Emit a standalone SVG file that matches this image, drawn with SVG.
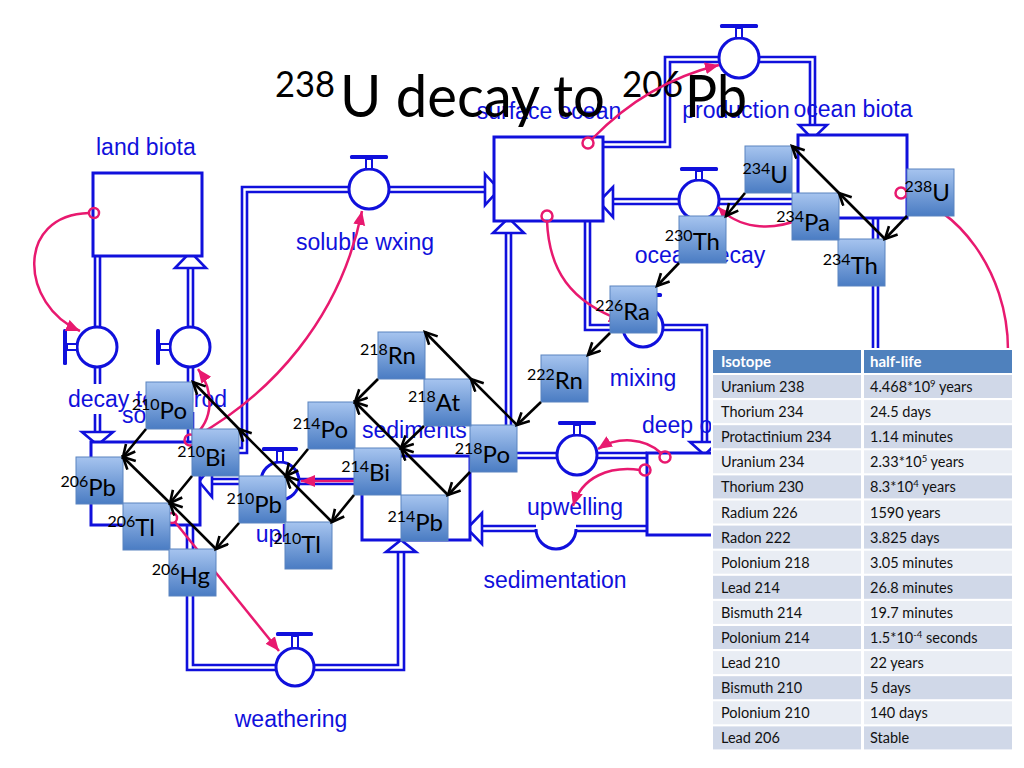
<svg xmlns="http://www.w3.org/2000/svg" width="1024" height="768" viewBox="0 0 1024 768">
<defs>
<style>
.p{fill:none;stroke:#1010dc;stroke-width:2.6}
.stk{fill:#fff;stroke:#1010dc;stroke-width:3}
.vc{fill:#fff;stroke:#1010dc;stroke-width:3}
.hb{fill:#1010dc}
.hs{fill:#fff;stroke:#1010dc;stroke-width:2}
.ah{fill:#fff;stroke:#1010dc;stroke-width:2.6;stroke-linejoin:miter}
.lbl{font-family:"Liberation Sans",Arial,sans-serif;font-size:23px;fill:#1010dc}
.pk{fill:none;stroke:#e8196f;stroke-width:2.5}
.pkc{fill:none;stroke:#e8196f;stroke-width:2.5}
.box{fill:url(#g);stroke:#5a84c0;stroke-width:1}
.iso{font-family:Lato,"Open Sans",sans-serif;font-size:24px;fill:#000}
.sup{font-size:16px}
.bk{fill:none;stroke:#000;stroke-width:2.6}
.th{fill:#4f81bd}
.rd{fill:#d0d8e8}
.rl{fill:#e9edf4}
.tt{font-family:Lato,"Open Sans",sans-serif;font-size:14.5px;fill:#111}
.tth{font-family:Lato,"Open Sans",sans-serif;font-size:15px;font-weight:bold;fill:#fff}
.ttl{font-family:Lato,"Open Sans",sans-serif;fill:#000}
</style>
<linearGradient id="g" x1="0" y1="0" x2="0" y2="1">
<stop offset="0" stop-color="#a6c4ef"/>
<stop offset="1" stop-color="#4a7cc3"/>
</linearGradient>
<marker id="ka" markerUnits="userSpaceOnUse" markerWidth="16" markerHeight="16" refX="13" refY="7" orient="auto">
<path d="M1,1 L13,7 L1,13" fill="none" stroke="#000" stroke-width="2.6"/>
</marker>
<marker id="pa" markerUnits="userSpaceOnUse" markerWidth="16" markerHeight="14" refX="14" refY="6" orient="auto">
<path d="M0,0 L14,6 L0,12 z" fill="#e8196f"/>
</marker>
</defs>
<rect x="0" y="0" width="1024" height="768" fill="#fff"/>

<g id="pipes">
<path class="p" d="M95,256 V327 M100,256 V327 M95,367 V384 M100,367 V384 M95,414 V432 M100,414 V432"/>
<polygon class="ah" points="82,432 113,432 97.5,445"/>
<path class="p" d="M188,268 V327 M193,268 V327 M188,367 V385 M193,367 V385 M188,412 V442 M193,412 V442"/>
<polygon class="ah" points="175,268 206,268 190.5,252"/>
<path class="p" d="M200,448 H242 V187 H349 M200,453 H247 V192 H349 M389,187 H485 M389,192 H485"/>
<polygon class="ah" points="485,174 499,189.5 485,205"/>
<path class="p" d="M603,142 H665 V57 H719 M603,147 H670 V62 H719 M759,57 H815 V125 M759,62 H810 V125"/>
<polygon class="ah" points="799,125 827,125 812.5,139"/>
<path class="p" d="M798,199 H719 M798,204 H719 M679,199 H613 M679,204 H613"/>
<polygon class="ah" points="613,187 613,217 599,201.5"/>
<path class="p" d="M585,221 V330 H623 M590,221 V325 H623 M663,325 H707 V442 M663,330 H702 V442"/>
<polygon class="ah" points="690,442 718,442 704.5,455"/>
<path class="p" d="M647,453 H597 M647,458 H597 M557,453 H511 V233 M557,458 H506 V233"/>
<polygon class="ah" points="493,233 524,233 508.5,218"/>
<path class="p" d="M647,526 H576 M647,531 H576 M536,526 H482 M536,531 H482"/>
<polygon class="ah" points="482,513 482,544 467,528.5"/>
<path class="p" d="M362,479 H299 M362,484 H299 M261,479 H212 M261,484 H212"/>
<polygon class="ah" points="212,466 212,497 199,481.5"/>
<path class="p" d="M187,525 V670 H276 M193,525 V665 H276 M314,665 H398 V552 M314,670 H404 V552"/>
<polygon class="ah" points="386,552 416,552 401,540"/>
<path class="p" d="M873,218 V350 M878,218 V350"/>
</g>

<g id="labels">
<text class="lbl" x="96" y="155">land biota</text>
<text class="lbl" x="365" y="250" text-anchor="middle">soluble wxing</text>
<text class="lbl" x="549" y="119" text-anchor="middle">surface ocean</text>
<text class="lbl" x="736" y="118" text-anchor="middle">production</text>
<text class="lbl" x="853" y="117" text-anchor="middle">ocean biota</text>
<text class="lbl" x="700" y="263" text-anchor="middle">ocean decay</text>
<text class="lbl" x="643" y="386" text-anchor="middle">mixing</text>
<text class="lbl" x="642" y="433">deep ocean</text>
<text class="lbl" x="575" y="515" text-anchor="middle">upwelling</text>
<text class="lbl" x="555" y="588" text-anchor="middle">sedimentation</text>
<text class="lbl" x="291" y="727" text-anchor="middle">weathering</text>
<text class="lbl" x="362" y="438">sediments</text>
<text class="lbl" x="280" y="542" text-anchor="middle">uplift</text>
<text class="lbl" x="68" y="407">decay to</text>
<text class="lbl" x="227" y="407" text-anchor="end">prod</text>
<text class="lbl" x="122" y="423">so</text>
</g>

<g id="land_biota"><rect class="stk" x="93" y="173" width="109" height="83"/></g>
<g id="soil"><rect class="stk" x="91" y="442" width="109" height="83"/></g>
<g id="surface_ocean"><rect class="stk" x="494" y="137" width="109" height="84"/></g>
<g id="ocean_biota"><rect class="stk" x="798" y="135" width="109" height="83"/></g>
<g id="deep_ocean"><rect class="stk" x="647" y="453" width="109" height="82"/></g>
<g id="sediments"><rect class="stk" x="362" y="456" width="108" height="84"/></g>

<g id="valve_decay">
<circle class="vc" cx="97" cy="347" r="20"/>
<rect class="hb" x="63" y="329" width="4" height="36" rx="1.5"/>
<rect class="hs" x="67" y="344" width="10" height="6"/>
</g>
<g id="valve_prod">
<circle class="vc" cx="190" cy="347" r="20"/>
<rect class="hb" x="156" y="329" width="4" height="36" rx="1.5"/>
<rect class="hs" x="160" y="344" width="10" height="6"/>
</g>
<g id="valve_soluble">
<circle class="vc" cx="369" cy="189" r="20"/>
<rect class="hb" x="350" y="155" width="38" height="4" rx="1.5"/>
<rect class="hs" x="366" y="159" width="6" height="10"/>
</g>
<g id="valve_production">
<circle class="vc" cx="739" cy="58" r="20"/>
<rect class="hb" x="720" y="24" width="38" height="4" rx="1.5"/>
<rect class="hs" x="736" y="28" width="6" height="10"/>
</g>
<g id="valve_ocean_decay">
<circle class="vc" cx="699" cy="200" r="20"/>
<rect class="hb" x="680" y="167" width="38" height="4" rx="1.5"/>
<rect class="hs" x="696" y="171" width="6" height="9"/>
</g>
<g id="valve_mixing">
<circle class="vc" cx="643" cy="327" r="20"/>
<rect class="hb" x="624" y="293" width="38" height="4" rx="1.5"/>
<rect class="hs" x="640" y="297" width="6" height="10"/>
</g>
<g id="valve_upwelling">
<circle class="vc" cx="577" cy="455" r="20"/>
<rect class="hb" x="558" y="421" width="38" height="4" rx="1.5"/>
<rect class="hs" x="574" y="425" width="6" height="10"/>
</g>
<g id="valve_sedimentation">
<path d="M536,529 A20,20 0 0 0 576,529" fill="none" stroke="#1010dc" stroke-width="3"/>
</g>
<g id="valve_uplift">
<circle class="vc" cx="280" cy="481" r="19"/>
<rect class="hb" x="262" y="447" width="36" height="4" rx="1.5"/>
<rect class="hs" x="277" y="451" width="6" height="11"/>
</g>
<g id="valve_weathering">
<circle class="vc" cx="295" cy="667" r="19"/>
<rect class="hb" x="276" y="632" width="37" height="4" rx="1.5"/>
<rect class="hs" x="292" y="636" width="6" height="12"/>
</g>

<g id="title">
<text class="ttl" x="275" y="97" font-size="37" textLength="60" lengthAdjust="spacingAndGlyphs">238</text>
<text class="ttl" x="340" y="117" font-size="58" textLength="265" lengthAdjust="spacingAndGlyphs">U decay to</text>
<text class="ttl" x="622" y="97" font-size="37" textLength="61" lengthAdjust="spacingAndGlyphs">206</text>
<text class="ttl" x="685" y="117" font-size="58" textLength="62" lengthAdjust="spacingAndGlyphs">Pb</text>
</g>

<g id="influences">
<circle class="pkc" cx="94" cy="213" r="5"/>
<path class="pk" d="M89,213 C15,215 20,305 80,331" marker-end="url(#pa)"/>
<circle class="pkc" cx="190" cy="440" r="5.5"/>
<path class="pk" d="M194,436 C213,420 215,392 198,369" marker-end="url(#pa)"/>
<path class="pk" d="M195,437 C270,395 340,320 362,211" marker-end="url(#pa)"/>
<circle class="pkc" cx="588" cy="143" r="5.5"/>
<path class="pk" d="M592,139 C625,105 665,78 719,65" marker-end="url(#pa)"/>
<circle class="pkc" cx="547" cy="216" r="5.5"/>
<path class="pk" d="M547,221 C549,270 570,302 623,321" marker-end="url(#pa)"/>
<path class="pk" d="M800,219 C770,232 738,228 718,207" marker-end="url(#pa)"/>
<circle class="pkc" cx="901" cy="193" r="5.5"/>
<path class="pk" d="M905,196 C955,205 1008,270 1008,350"/>
<circle class="pkc" cx="665" cy="457" r="5.5"/>
<path class="pk" d="M661,453 C645,438 618,436 598,449" marker-end="url(#pa)"/>
<circle class="pkc" cx="645" cy="470" r="5.5"/>
<path class="pk" d="M640,470 C610,466 582,476 573,506" marker-end="url(#pa)"/>
<path class="pk" d="M356,481 L301,481" marker-end="url(#pa)"/>
<circle class="pkc" cx="172" cy="518" r="5"/>
<path class="pk" d="M175,522 L279,651" marker-end="url(#pa)"/>
</g>

<g id="U238"><rect class="box" x="907" y="169" width="47" height="47"/><text class="iso" x="950" y="201" text-anchor="end"><tspan class="sup" dy="-9">238</tspan><tspan dy="9">U</tspan></text></g>
<g id="Th234"><rect class="box" x="838" y="239" width="47" height="47"/><text class="iso" x="878" y="274" text-anchor="end"><tspan class="sup" dy="-9">234</tspan><tspan dy="9">Th</tspan></text></g>
<g id="Pa234"><rect class="box" x="792" y="193" width="47" height="47"/><text class="iso" x="830" y="231" text-anchor="end"><tspan class="sup" dy="-9">234</tspan><tspan dy="9">Pa</tspan></text></g>
<g id="U234"><rect class="box" x="745" y="146" width="47" height="47"/><text class="iso" x="788" y="183" text-anchor="end"><tspan class="sup" dy="-9">234</tspan><tspan dy="9">U</tspan></text></g>
<g id="Th230"><rect class="box" x="679" y="216" width="47" height="47"/><text class="iso" x="720" y="250" text-anchor="end"><tspan class="sup" dy="-9">230</tspan><tspan dy="9">Th</tspan></text></g>
<g id="Ra226"><rect class="box" x="610" y="286" width="47" height="47"/><text class="iso" x="650" y="320" text-anchor="end"><tspan class="sup" dy="-9">226</tspan><tspan dy="9">Ra</tspan></text></g>
<g id="Rn222"><rect class="box" x="541" y="355" width="47" height="47"/><text class="iso" x="583" y="389" text-anchor="end"><tspan class="sup" dy="-9">222</tspan><tspan dy="9">Rn</tspan></text></g>
<g id="Po218"><rect class="box" x="470" y="425" width="47" height="47"/><text class="iso" x="510" y="463" text-anchor="end"><tspan class="sup" dy="-9">218</tspan><tspan dy="9">Po</tspan></text></g>
<g id="At218"><rect class="box" x="424" y="379" width="47" height="47"/><text class="iso" x="460" y="411" text-anchor="end"><tspan class="sup" dy="-9">218</tspan><tspan dy="9">At</tspan></text></g>
<g id="Rn218"><rect class="box" x="378" y="332" width="47" height="47"/><text class="iso" x="416" y="364" text-anchor="end"><tspan class="sup" dy="-9">218</tspan><tspan dy="9">Rn</tspan></text></g>
<g id="Po214"><rect class="box" x="308" y="402" width="47" height="47"/><text class="iso" x="348" y="438" text-anchor="end"><tspan class="sup" dy="-9">214</tspan><tspan dy="9">Po</tspan></text></g>
<g id="Bi214"><rect class="box" x="354" y="448" width="47" height="47"/><text class="iso" x="390" y="481" text-anchor="end"><tspan class="sup" dy="-9">214</tspan><tspan dy="9">Bi</tspan></text></g>
<g id="Pb214"><rect class="box" x="401" y="495" width="47" height="46"/><text class="iso" x="443" y="531" text-anchor="end"><tspan class="sup" dy="-9">214</tspan><tspan dy="9">Pb</tspan></text></g>
<g id="Pb210"><rect class="box" x="239" y="476" width="47" height="47"/><text class="iso" x="282" y="513" text-anchor="end"><tspan class="sup" dy="-9">210</tspan><tspan dy="9">Pb</tspan></text></g>
<g id="Tl210"><rect class="box" x="285" y="522" width="47" height="47"/><text class="iso" x="321" y="553" text-anchor="end"><tspan class="sup" dy="-9">210</tspan><tspan dy="9">Tl</tspan></text></g>
<g id="Bi210"><rect class="box" x="192" y="429" width="47" height="47"/><text class="iso" x="226" y="466" text-anchor="end"><tspan class="sup" dy="-9">210</tspan><tspan dy="9">Bi</tspan></text></g>
<g id="Po210"><rect class="box" x="146" y="382" width="47" height="47"/><text class="iso" x="187" y="419" text-anchor="end"><tspan class="sup" dy="-9">210</tspan><tspan dy="9">Po</tspan></text></g>
<g id="Pb206"><rect class="box" x="76" y="457" width="47" height="47"/><text class="iso" x="116" y="496" text-anchor="end"><tspan class="sup" dy="-9">206</tspan><tspan dy="9">Pb</tspan></text></g>
<g id="Tl206"><rect class="box" x="123" y="503" width="47" height="47"/><text class="iso" x="155" y="536" text-anchor="end"><tspan class="sup" dy="-9">206</tspan><tspan dy="9">Tl</tspan></text></g>
<g id="Hg206"><rect class="box" x="169" y="549" width="47" height="47"/><text class="iso" x="210" y="584" text-anchor="end"><tspan class="sup" dy="-9">206</tspan><tspan dy="9">Hg</tspan></text></g>

<g id="decays">
<line class="bk" x1="907" y1="216" x2="885" y2="239" marker-end="url(#ka)"/>
<line class="bk" x1="885" y1="239" x2="839" y2="193" marker-end="url(#ka)"/>
<line class="bk" x1="839" y1="193" x2="792" y2="146" marker-end="url(#ka)"/>
<line class="bk" x1="745" y1="193" x2="726" y2="216" marker-end="url(#ka)"/>
<line class="bk" x1="679" y1="263" x2="657" y2="286" marker-end="url(#ka)"/>
<line class="bk" x1="610" y1="333" x2="588" y2="355" marker-end="url(#ka)"/>
<line class="bk" x1="541" y1="402" x2="517" y2="425" marker-end="url(#ka)"/>
<line class="bk" x1="517" y1="425" x2="471" y2="379" marker-end="url(#ka)"/>
<line class="bk" x1="471" y1="379" x2="425" y2="332" marker-end="url(#ka)"/>
<line class="bk" x1="470" y1="472" x2="448" y2="495" marker-end="url(#ka)"/>
<line class="bk" x1="424" y1="426" x2="401" y2="448" marker-end="url(#ka)"/>
<line class="bk" x1="378" y1="379" x2="355" y2="402" marker-end="url(#ka)"/>
<line class="bk" x1="448" y1="495" x2="401" y2="448" marker-end="url(#ka)"/>
<line class="bk" x1="401" y1="448" x2="355" y2="402" marker-end="url(#ka)"/>
<line class="bk" x1="354" y1="495" x2="332" y2="522" marker-end="url(#ka)"/>
<line class="bk" x1="308" y1="449" x2="286" y2="476" marker-end="url(#ka)"/>
<line class="bk" x1="332" y1="522" x2="286" y2="476" marker-end="url(#ka)"/>
<line class="bk" x1="286" y1="476" x2="239" y2="429" marker-end="url(#ka)"/>
<line class="bk" x1="239" y1="429" x2="193" y2="382" marker-end="url(#ka)"/>
<line class="bk" x1="192" y1="476" x2="170" y2="503" marker-end="url(#ka)"/>
<line class="bk" x1="146" y1="429" x2="123" y2="457" marker-end="url(#ka)"/>
<line class="bk" x1="239" y1="523" x2="216" y2="549" marker-end="url(#ka)"/>
<line class="bk" x1="216" y1="549" x2="170" y2="503" marker-end="url(#ka)"/>
<line class="bk" x1="170" y1="503" x2="123" y2="457" marker-end="url(#ka)"/>
</g>

<g id="table">
<rect x="711" y="348" width="303" height="404" fill="#fff"/>
<rect class="th" x="713" y="350" width="148" height="23"/>
<rect class="th" x="864" y="350" width="148" height="23"/>
<text class="tth" x="721" y="367">Isotope</text>
<text class="tth" x="870" y="367">half-life</text>
<g>
<rect class="rd" x="713" y="375" width="148" height="23"/><rect class="rd" x="864" y="375" width="148" height="23"/>
<rect class="rl" x="713" y="400.1" width="148" height="23"/><rect class="rl" x="864" y="400.1" width="148" height="23"/>
<rect class="rd" x="713" y="425.2" width="148" height="23"/><rect class="rd" x="864" y="425.2" width="148" height="23"/>
<rect class="rl" x="713" y="450.3" width="148" height="23"/><rect class="rl" x="864" y="450.3" width="148" height="23"/>
<rect class="rd" x="713" y="475.4" width="148" height="23"/><rect class="rd" x="864" y="475.4" width="148" height="23"/>
<rect class="rl" x="713" y="500.5" width="148" height="23"/><rect class="rl" x="864" y="500.5" width="148" height="23"/>
<rect class="rd" x="713" y="525.6" width="148" height="23"/><rect class="rd" x="864" y="525.6" width="148" height="23"/>
<rect class="rl" x="713" y="550.7" width="148" height="23"/><rect class="rl" x="864" y="550.7" width="148" height="23"/>
<rect class="rd" x="713" y="575.8" width="148" height="23"/><rect class="rd" x="864" y="575.8" width="148" height="23"/>
<rect class="rl" x="713" y="600.9" width="148" height="23"/><rect class="rl" x="864" y="600.9" width="148" height="23"/>
<rect class="rd" x="713" y="626" width="148" height="23"/><rect class="rd" x="864" y="626" width="148" height="23"/>
<rect class="rl" x="713" y="651.1" width="148" height="23"/><rect class="rl" x="864" y="651.1" width="148" height="23"/>
<rect class="rd" x="713" y="676.2" width="148" height="23"/><rect class="rd" x="864" y="676.2" width="148" height="23"/>
<rect class="rl" x="713" y="701.3" width="148" height="23"/><rect class="rl" x="864" y="701.3" width="148" height="23"/>
<rect class="rd" x="713" y="726.4" width="148" height="23"/><rect class="rd" x="864" y="726.4" width="148" height="23"/>
</g>
<g>
<text class="tt" x="721" y="392">Uranium 238</text>
<text class="tt" x="870" y="392">4.468*10<tspan font-size="9.5" dy="-5">9</tspan><tspan dy="5"> years</tspan></text>
<text class="tt" x="721" y="417.1">Thorium 234</text>
<text class="tt" x="870" y="417.1">24.5 days</text>
<text class="tt" x="721" y="442.2">Protactinium 234</text>
<text class="tt" x="870" y="442.2">1.14 minutes</text>
<text class="tt" x="721" y="467.3">Uranium 234</text>
<text class="tt" x="870" y="467.3">2.33*10<tspan font-size="9.5" dy="-5">5</tspan><tspan dy="5"> years</tspan></text>
<text class="tt" x="721" y="492.4">Thorium 230</text>
<text class="tt" x="870" y="492.4">8.3*10<tspan font-size="9.5" dy="-5">4</tspan><tspan dy="5"> years</tspan></text>
<text class="tt" x="721" y="517.5">Radium 226</text>
<text class="tt" x="870" y="517.5">1590 years</text>
<text class="tt" x="721" y="542.6">Radon 222</text>
<text class="tt" x="870" y="542.6">3.825 days</text>
<text class="tt" x="721" y="567.7">Polonium 218</text>
<text class="tt" x="870" y="567.7">3.05 minutes</text>
<text class="tt" x="721" y="592.8">Lead 214</text>
<text class="tt" x="870" y="592.8">26.8 minutes</text>
<text class="tt" x="721" y="617.9">Bismuth 214</text>
<text class="tt" x="870" y="617.9">19.7 minutes</text>
<text class="tt" x="721" y="643">Polonium 214</text>
<text class="tt" x="870" y="643">1.5*10<tspan font-size="9.5" dy="-5">-4</tspan><tspan dy="5"> seconds</tspan></text>
<text class="tt" x="721" y="668.1">Lead 210</text>
<text class="tt" x="870" y="668.1">22 years</text>
<text class="tt" x="721" y="693.2">Bismuth 210</text>
<text class="tt" x="870" y="693.2">5 days</text>
<text class="tt" x="721" y="718.3">Polonium 210</text>
<text class="tt" x="870" y="718.3">140 days</text>
<text class="tt" x="721" y="743.4">Lead 206</text>
<text class="tt" x="870" y="743.4">Stable</text>
</g>
</g>
</svg>
